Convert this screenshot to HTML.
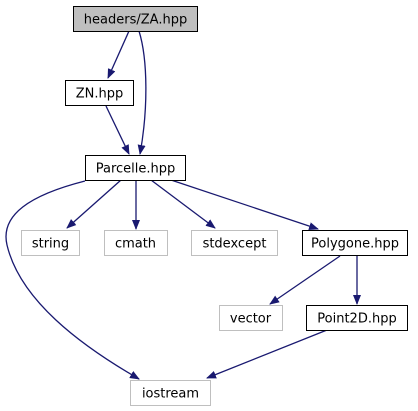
<!DOCTYPE html>
<html><head><meta charset="utf-8"><style>
body{margin:0;background:#fff;}
svg{display:block;}
text{font-family:"DejaVu Sans","Liberation Sans",sans-serif;font-size:13px;fill:#000;}
</style></head><body>
<svg width="418" height="411" viewBox="0 0 418 411" xmlns="http://www.w3.org/2000/svg">
<defs><marker id="a" markerWidth="10" markerHeight="10" refX="9" refY="5" orient="auto" markerUnits="userSpaceOnUse"><path d="M0,1 L10,5 L0,9 Z" fill="#191970"/></marker></defs>
<g fill="none" stroke="#191970" stroke-width="1.3">
<path d="M129,31 L108,78" marker-end="url(#a)"/>
<path d="M139,31 C148,60 148,110 140,154" marker-end="url(#a)"/>
<path d="M106,106 L129,154" marker-end="url(#a)"/>
<path d="M121,180 L67,228" marker-end="url(#a)"/>
<path d="M136,180 L136,229" marker-end="url(#a)"/>
<path d="M151,180 L215,228" marker-end="url(#a)"/>
<path d="M171,180 L318,229" marker-end="url(#a)"/>
<path d="M85,181 C30,195 0,215 7,245 C20,300 80,345 139,379" marker-end="url(#a)"/>
<path d="M340,256 L270,304" marker-end="url(#a)"/>
<path d="M357,256 L357,304" marker-end="url(#a)"/>
<path d="M327,330 L207,378" marker-end="url(#a)"/>
</g>
<rect x="73.5" y="6.5" width="124" height="25" fill="#bfbfbf" stroke="#000"/>
<text x="135.5" y="23.5" text-anchor="middle">headers/ZA.hpp</text>
<rect x="65.5" y="80.5" width="68" height="25" fill="#fff" stroke="#000"/>
<text x="99.5" y="97.5" text-anchor="middle">ZN.hpp</text>
<rect x="85.5" y="155.5" width="100" height="25" fill="#fff" stroke="#000"/>
<text x="135.5" y="172.5" text-anchor="middle">Parcelle.hpp</text>
<g fill="#fff" stroke="#bfbfbf">
<rect x="21.5" y="230.5" width="58" height="25"/>
<rect x="104.5" y="230.5" width="63" height="25"/>
<rect x="191.5" y="230.5" width="86" height="25"/>
<rect x="219.5" y="305.5" width="63" height="25"/>
<rect x="130.5" y="380.5" width="80" height="25"/>
</g>
<text x="50.5" y="247.5" text-anchor="middle">string</text>
<text x="135.5" y="247.5" text-anchor="middle">cmath</text>
<text x="234.5" y="247.5" text-anchor="middle">stdexcept</text>
<text x="250.5" y="322.5" text-anchor="middle">vector</text>
<text x="170.5" y="397.5" text-anchor="middle">iostream</text>
<rect x="302.5" y="230.5" width="105" height="25" fill="#fff" stroke="#000"/>
<text x="355" y="247.5" text-anchor="middle">Polygone.hpp</text>
<rect x="306.5" y="305.5" width="101" height="25" fill="#fff" stroke="#000"/>
<text x="357" y="322.5" text-anchor="middle">Point2D.hpp</text>
</svg>
</body></html>
